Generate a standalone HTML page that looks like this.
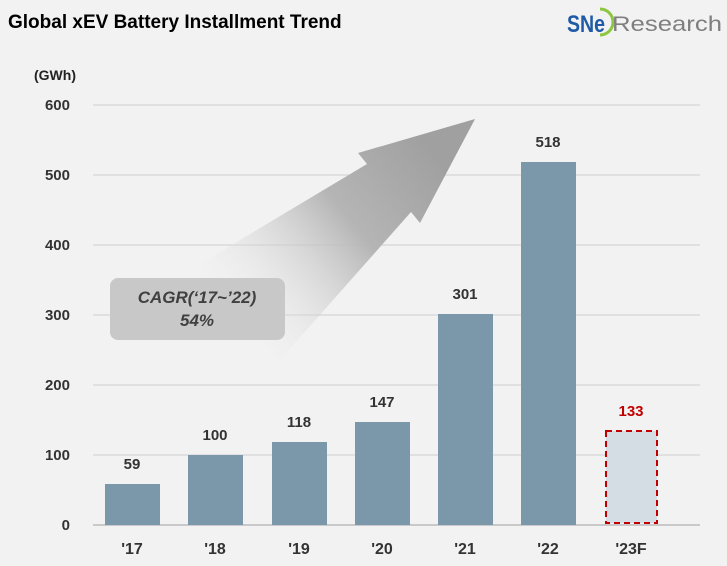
<!DOCTYPE html><html><head><style>body{margin:0;background:#f2f2f2}</style></head><body>
<svg width="727" height="561" xmlns="http://www.w3.org/2000/svg" font-family="Liberation Sans, sans-serif">
<defs><linearGradient id="g" x1="230" y1="330" x2="440" y2="160" gradientUnits="userSpaceOnUse"><stop offset="0" stop-color="#f2f2f2" stop-opacity="0"/><stop offset="0.6" stop-color="#b5b5b5"/><stop offset="1" stop-color="#a0a0a0"/></linearGradient></defs>
<rect width="727" height="561" fill="#f2f2f2"/>
<text x="8" y="28" font-size="19" font-weight="bold" fill="#000">Global xEV Battery Installment Trend</text>
<text x="567" y="32" font-size="24" font-weight="bold" fill="#1f5aa6" textLength="38" lengthAdjust="spacingAndGlyphs">SNe</text>
<path d="M600 9 A13 13 0 0 1 600 35" fill="none" stroke="#8dc63f" stroke-width="3"/>
<text x="612" y="31" font-size="21" fill="#7f7f7f" textLength="110" lengthAdjust="spacingAndGlyphs">Research</text>
<text x="34" y="80" font-size="14" font-weight="bold" fill="#222">(GWh)</text>
<g stroke="#d9d9d9" stroke-width="1.5"><line x1="93" x2="700" y1="105" y2="105"/><line x1="93" x2="700" y1="175" y2="175"/><line x1="93" x2="700" y1="245" y2="245"/><line x1="93" x2="700" y1="315" y2="315"/><line x1="93" x2="700" y1="385" y2="385"/><line x1="93" x2="700" y1="455" y2="455"/></g>
<line x1="93" x2="700" y1="525" y2="525" stroke="#bbb" stroke-width="1.5"/>
<g font-size="15" font-weight="bold" fill="#333" text-anchor="end"><text x="70" y="110">600</text><text x="70" y="180">500</text><text x="70" y="250">400</text><text x="70" y="320">300</text><text x="70" y="390">200</text><text x="70" y="460">100</text><text x="70" y="530">0</text></g>
<polygon points="190,270 367,164 358,153 475,119 420,223 411,212 280,360" fill="url(#g)"/>
<rect x="110" y="278" width="175" height="62" rx="8" fill="#c8c8c8"/>
<text x="197" y="303" font-size="17" font-weight="bold" font-style="italic" fill="#404040" text-anchor="middle">CAGR(‘17~’22)</text>
<text x="197" y="326" font-size="17" font-weight="bold" font-style="italic" fill="#404040" text-anchor="middle">54%</text>
<g fill="#7a98aa"><rect x="105" y="484" width="55" height="41"/><rect x="188" y="455" width="55" height="70"/><rect x="272" y="442" width="55" height="83"/><rect x="355" y="422" width="55" height="103"/><rect x="438" y="314" width="55" height="211"/><rect x="521" y="162" width="55" height="363"/></g>
<rect x="606" y="431" width="51" height="92" fill="#d3dde3" stroke="#c00000" stroke-width="2" stroke-dasharray="6,4"/>
<g font-size="15" font-weight="bold" fill="#333" text-anchor="middle"><text x="132" y="469">59</text><text x="215" y="440">100</text><text x="299" y="427">118</text><text x="382" y="407">147</text><text x="465" y="299">301</text><text x="548" y="147">518</text><text x="631" y="416" fill="#c00000">133</text></g>
<g font-size="16" font-weight="bold" fill="#333" text-anchor="middle"><text x="132" y="554">'17</text><text x="215" y="554">'18</text><text x="299" y="554">'19</text><text x="382" y="554">'20</text><text x="465" y="554">'21</text><text x="548" y="554">'22</text><text x="631" y="554">'23F</text></g>
</svg></body></html>
